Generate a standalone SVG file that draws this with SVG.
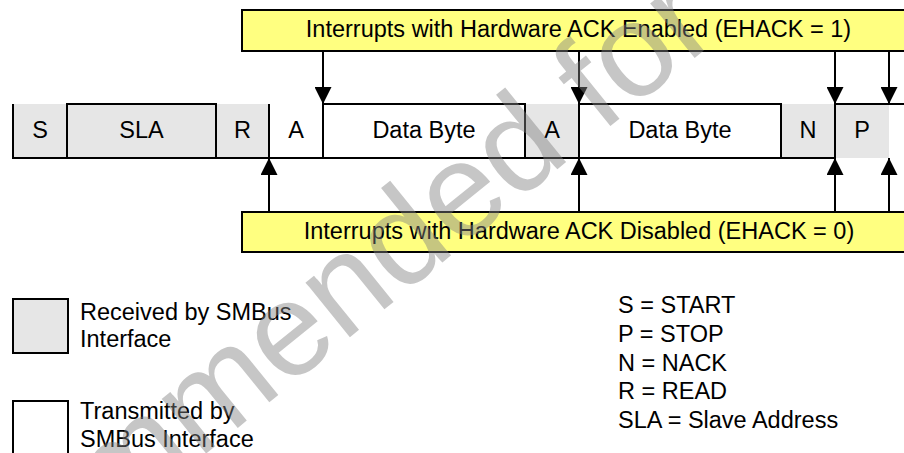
<svg xmlns="http://www.w3.org/2000/svg" width="904" height="453" viewBox="0 0 904 453">
<style>
text{font-family:"Liberation Sans",Arial,sans-serif;font-size:23.5px;fill:#000}
.c{text-anchor:middle}
.rx{fill:#e6e6e6}
.ln{stroke:#000;stroke-width:2;fill:none}
.yb{fill:#ffff80;stroke:#000;stroke-width:2}
.ar{stroke:#000;stroke-width:2;fill:none;marker-end:url(#ah)}
.wm{font-size:133px;fill:#808080;fill-opacity:0.45}
</style>
<defs>
<marker id="ah" viewBox="0 0 17 17" refX="17" refY="8.5" markerWidth="17" markerHeight="17" markerUnits="userSpaceOnUse" orient="auto"><path d="M0,0 L17,8.5 L0,17 z" fill="#000"/></marker>
</defs>
<rect width="904" height="453" fill="#fff"/>
<g id="box-enabled"><rect class="yb" x="242" y="10" width="680" height="41"/><text class="c" x="578.5" y="37">Interrupts with Hardware ACK Enabled (EHACK = 1)</text></g>
<g id="box-disabled"><rect class="yb" x="242" y="212" width="680" height="40"/><text class="c" x="579" y="239">Interrupts with Hardware ACK Disabled (EHACK = 0)</text></g>
<g id="cell-s"><rect class="rx" x="13" y="104" width="54" height="54"/><text class="c" x="40" y="138">S</text></g>
<g id="cell-sla"><rect class="rx" x="67" y="104" width="149" height="54"/><text class="c" x="141.5" y="138">SLA</text></g>
<g id="cell-r"><rect class="rx" x="216" y="104" width="53" height="54"/><text class="c" x="242.5" y="138">R</text></g>
<g id="cell-a1"><text class="c" x="296" y="138">A</text></g>
<g id="cell-data1"><text class="c" x="424" y="138">Data Byte</text></g>
<g id="cell-a2"><rect class="rx" x="525" y="104" width="54" height="54"/><text class="c" x="552" y="138">A</text></g>
<g id="cell-data2"><text class="c" x="680" y="138">Data Byte</text></g>
<g id="cell-n"><rect class="rx" x="781" y="104" width="54" height="54"/><text class="c" x="808" y="138">N</text></g>
<g id="cell-p"><rect class="rx" x="835" y="104" width="54" height="54"/><text class="c" x="862" y="138">P</text></g>
<g id="cell-lines">
<path class="ln" d="M13,104V158M67,104V158M216,104V158M269,104V158M323,104V158M525,104V158M579,104V158M781,104V158M835,104V158"/>
<path class="ln" d="M12,158H836M66,104H217M322,104H526M578,104H782M834,104H904"/>
</g>
<g id="connectors">
<line class="ar" x1="323" y1="51" x2="323" y2="104"/>
<line class="ar" x1="579" y1="51" x2="579" y2="104"/>
<line class="ar" x1="835" y1="51" x2="835" y2="104"/>
<line class="ar" x1="889" y1="51" x2="889" y2="104"/>
<line class="ar" x1="269" y1="212" x2="269" y2="158"/>
<line class="ar" x1="579" y1="212" x2="579" y2="158"/>
<line class="ar" x1="835" y1="212" x2="835" y2="158"/>
<line class="ar" x1="889" y1="212" x2="889" y2="158"/>
</g>
<g id="legend-received"><rect class="rx" x="13" y="299" width="55" height="54" stroke="#000" stroke-width="2"/><text x="80" y="320">Received by SMBus</text><text x="80" y="347">Interface</text></g>
<g id="legend-transmitted"><rect x="13" y="401" width="55" height="60" fill="#fff" stroke="#000" stroke-width="2"/><text x="80" y="419">Transmitted by</text><text x="80" y="447">SMBus Interface</text></g>
<g id="legend-abbrev">
<text x="618" y="313">S = START</text>
<text x="618" y="342">P = STOP</text>
<text x="618" y="371">N = NACK</text>
<text x="618" y="399">R = READ</text>
<text x="618" y="428">SLA = Slave Address</text>
</g>
<text class="wm" transform="translate(113,529) rotate(-39)">mmended for</text>
</svg>
